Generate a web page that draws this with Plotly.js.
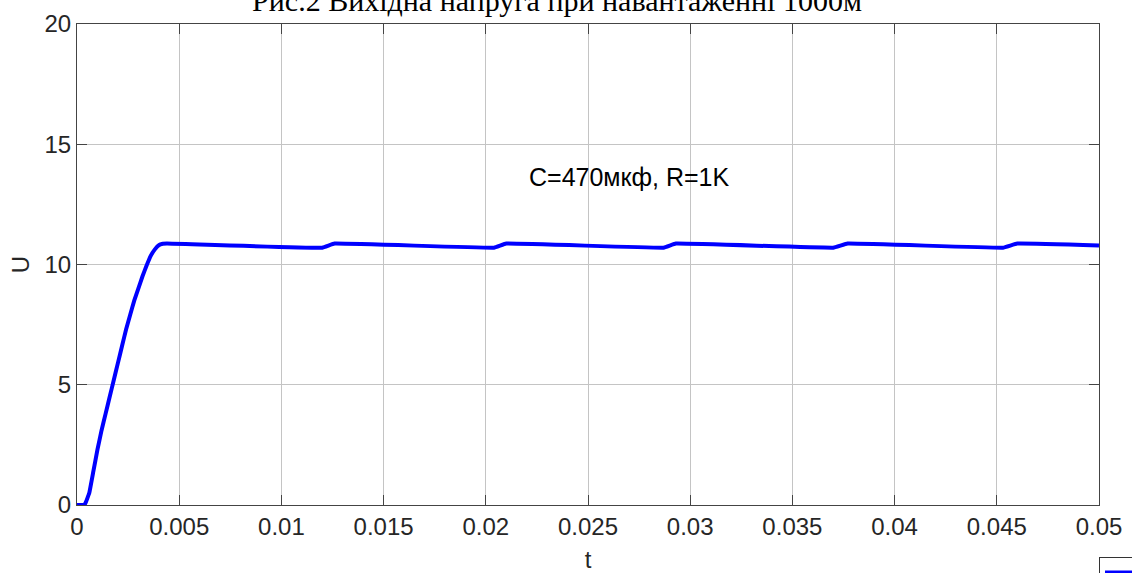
<!DOCTYPE html>
<html>
<head>
<meta charset="utf-8">
<script src="https://cdn.plot.ly/plotly-3.0.1.min.js"></script>
<style>html,body{margin:0;padding:0;background:#fff;}#chart{width:1132px;height:573px;}</style>
</head>
<body>
<div id="chart"></div>
<script>
// time (s) and output voltage (V)
var tValues = [0, 0.0003, 0.0004, 0.0006, 0.0008, 0.001, 0.0012, 0.0014, 0.0016, 0.0018, 0.002, 0.0022, 0.0024, 0.0026, 0.0028,
  0.003, 0.0032, 0.0034, 0.0036, 0.0038, 0.004, 0.0042, 0.0044,
  0.0120, 0.0126,
  0.0204, 0.0210,
  0.0287, 0.0293,
  0.0370, 0.0377,
  0.0453, 0.0460,
  0.0500];
var uValues = [0, 0, 0.05, 0.5, 1.4, 2.3, 3.1, 3.8, 4.5, 5.2, 5.9, 6.6, 7.3, 7.9, 8.5,
  9.0, 9.5, 9.95, 10.35, 10.62, 10.8, 10.86, 10.87,
  10.70, 10.87,
  10.70, 10.87,
  10.70, 10.87,
  10.70, 10.87,
  10.70, 10.87,
  10.79];
var xTickVals = [0, 0.005, 0.01, 0.015, 0.02, 0.025, 0.03, 0.035, 0.04, 0.045, 0.05];
var xTickText = ['0', '0.005', '0.01', '0.015', '0.02', '0.025', '0.03', '0.035', '0.04', '0.045', '0.05'];
var yTickVals = [0, 5, 10, 15, 20];
var titleText = 'Рис.2 Вихідна напруга при навантаженні 1000м';
var noteText = 'C=470мкф, R=1K';
var noteX = 0.02705, noteY = 13.65;

var trace = {
  x: tValues, y: uValues, type: 'scatter', mode: 'lines', name: ' ',
  line: {color: '#0000ff', width: 4, shape: 'spline', smoothing: 0.2}
};
var axisFont = {family: 'Liberation Sans, Arial, sans-serif', size: 24, color: '#262626'};
var layout = {
  width: 1132, height: 573,
  margin: {l: 77, r: 29, t: 24, b: 68},
  paper_bgcolor: '#fff', plot_bgcolor: '#fff',
  showlegend: true,
  legend: {xref: 'container', yref: 'container', x: 1099/1132, y: 1 - 557/573, xanchor: 'left', yanchor: 'top',
    bordercolor: '#333', borderwidth: 1, bgcolor: '#fff', itemwidth: 30, font: {size: 12}},
  title: {text: titleText, font: {family: 'Liberation Serif, Times New Roman, serif', size: 30, color: '#000'},
    xref: 'container', x: 557/1132, xanchor: 'center', yref: 'container', y: 1.0, yanchor: 'middle'},
  xaxis: {
    range: [0, 0.05], tickvals: xTickVals, ticktext: xTickText,
    showgrid: true, gridcolor: '#c4c4c4', gridwidth: 1,
    showline: true, linecolor: '#444', linewidth: 1, mirror: 'ticks',
    ticks: 'inside', ticklen: 10, tickcolor: '#444',
    tickfont: axisFont, zeroline: false,
    title: {text: 't', font: axisFont, standoff: 14}
  },
  yaxis: {
    range: [0, 20], tickvals: yTickVals,
    showgrid: true, gridcolor: '#c4c4c4', gridwidth: 1,
    showline: true, linecolor: '#444', linewidth: 1, mirror: 'ticks',
    ticks: 'inside', ticklen: 10, tickcolor: '#444',
    tickfont: axisFont, zeroline: false,
    title: {text: 'U', font: axisFont, standoff: 8}
  },
  annotations: [{x: noteX, y: noteY, xref: 'x', yref: 'y', text: noteText, showarrow: false,
    font: {family: 'Liberation Sans, Arial, sans-serif', size: 25, color: '#000'}}]
};
Plotly.newPlot('chart', [trace], layout, {staticPlot: true, displayModeBar: false});
</script>
</body>
</html>
